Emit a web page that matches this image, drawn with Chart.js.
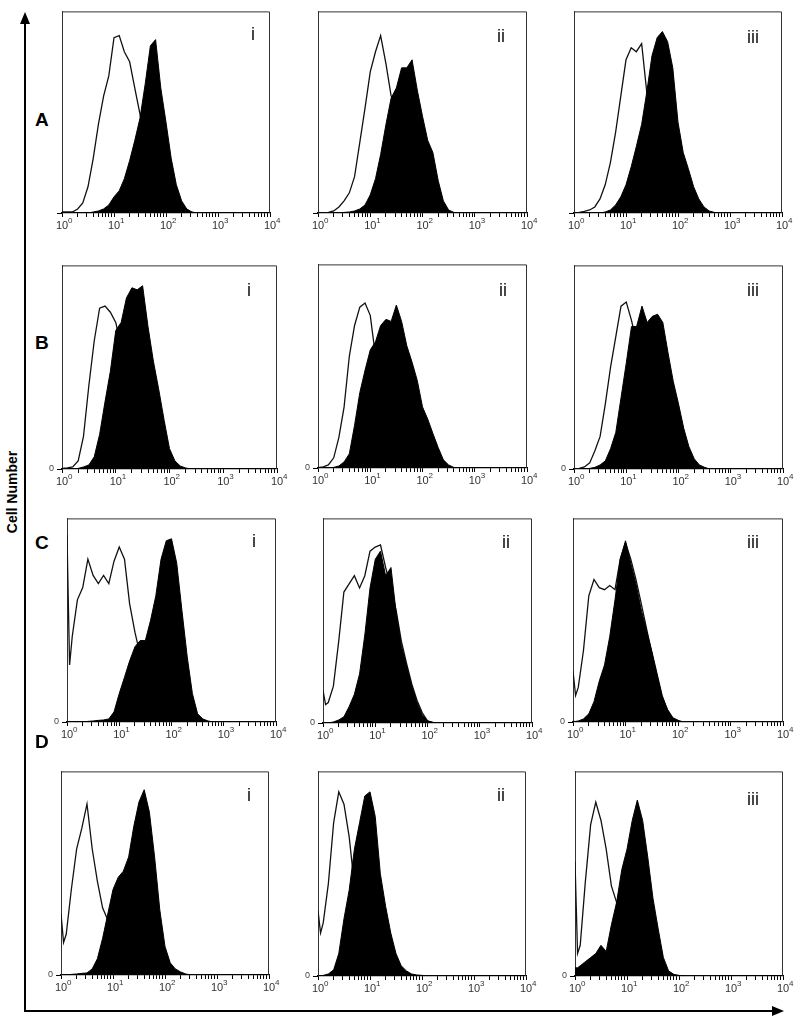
<!DOCTYPE html>
<html>
<head>
<meta charset="utf-8">
<script src="https://cdn.jsdelivr.net/npm/chart.js@4.4.1/dist/chart.umd.min.js"></script>
<style>
  body { margin: 0; width: 800px; height: 1021px; background: #fff; position: relative; overflow: hidden;
         font-family: "Liberation Sans", Arial, sans-serif; }
  canvas { position: absolute; }
  .row { position: absolute; font-weight: bold; font-size: 19px; line-height: 19px; color: #000; }
  .pl { position: absolute; font-size: 18px; line-height: 18px; color: #111; }
  #ylab { position: absolute; left: -31px; top: 484px; width: 86px; height: 16px; line-height: 16px;
          text-align: center; font-weight: bold; font-size: 14px; white-space: nowrap; transform: rotate(-90deg); }
  .ln { position: absolute; background: #000; }
  .tri-up { position: absolute; width: 0; height: 0; border-left: 5px solid transparent; border-right: 5px solid transparent; border-bottom: 12px solid #000; }
  .tri-right { position: absolute; width: 0; height: 0; border-top: 5px solid transparent; border-bottom: 5px solid transparent; border-left: 12px solid #000; }
</style>
</head>
<body>
<div id="ylab">Cell Number</div>
<div class="ln" style="left:24px;top:22px;width:2px;height:990px"></div>
<div class="tri-up" style="left:20px;top:12px"></div>
<div class="ln" style="left:24px;top:1010px;width:752px;height:2px"></div>
<div class="tri-right" style="left:772px;top:1006px"></div>

<script>
// fluorescence channel (log grid) shared by every histogram
const fluor = [1, 1.12, 1.26, 1.58, 2.0, 2.51, 3.16, 3.98, 5.01, 6.31, 7.94, 10, 12.6, 15.8, 20.0, 25.1,
               31.6, 39.8, 50.1, 63.1, 79.4, 100, 126, 158, 200, 251, 316, 398, 501, 631];
const decadeBase = '10';
const decadeExp = ['0', '1', '2', '3', '4'];
const rowNames = ['A', 'B', 'C', 'D'];
const colNames = ['i', 'ii', 'iii'];

// control (open outline) and stained (filled) cell counts, % of panel height
const ctrlA1 = [0.5,0.5,0.5,0.5,2,5,13,27,44,58,68,87,88,80,75,62,49,35,22,12,6,3,1,0.5,0,0,0,0,0,0];
const stainA1 = [0,0,0,0,0,0,0,0.5,1,2,4,8,11,17,26,36,47,64,83,86,62,45,27,14,6,2,0.5,0,0,0];
const ctrlA2 = [0,0,0,0.3,1,3,6,10,18,35,52,70,80,88,74,58,55,45,35,25,15,8,4,2,0.5,0,0,0,0,0];
const stainA2 = [0,0,0,0,0,0,0.3,0.5,1,2,4,9,17,29,44,57,62,72,72,76,61,48,36,30,16,6,1.5,0.3,0,0];
const ctrlA3 = [0,0.1,0.3,0.8,1.5,3,7,14,25,40,58,76,82,80,84,60,45,30,18,10,5,2,1,0,0,0,0,0,0,0];
const stainA3 = [0,0,0,0,0,0,0,0.5,1.5,4,8,14,23,33,44,60,78,87,90,85,72,45,30,22,13,7,3,1,0.3,0];

const ctrlB1 = [0.3,0.4,0.5,1,4,16,41,63,79,80,77,72,60,45,32,20,12,6,3,1,0.3,0,0,0,0,0,0,0,0,0];
const stainB1 = [0,0,0,0,0.3,1,2,6,17,33,48,68,72,84,89,88,90,70,53,39,24,10,4,1.5,0.5,0,0,0,0,0];
const ctrlB2 = [0.3,0.4,0.6,1.5,5,15,30,55,70,79,81,75,55,40,28,17,10,5,2,1,0.3,0,0,0,0,0,0,0,0,0];
const stainB2 = [0,0,0,0,0.3,1,3,7,21,37,48,58,62,70,73,72,80,72,60,52,43,30,24,17,10,4,1.5,0.3,0,0];
const ctrlB3 = [0,0.1,0.3,1,3,9,16,32,50,65,80,82,73,62,45,32,20,12,6,3,1,0.3,0,0,0,0,0,0,0,0];
const stainB3 = [0,0,0,0,0.3,0.8,2,4,10,18,35,52,70,70,80,72,75,76,72,57,43,32,20,11,5,2,0.8,0,0,0];

const ctrlC1 = [92,28,42,60,66,80,72,68,72,68,79,86,80,58,44,33,22,14,8,4,2,1,0.3,0,0,0,0,0,0,0];
const stainC1 = [0,0,0,0,0,0.3,0.5,0.8,1,1.5,5,14,22,30,37,40,40,50,62,80,89,90,78,55,32,14,4,1.5,0.5,0];
const ctrlC2 = [16,9,10,18,40,64,68,72,66,72,84,86,87,76,66,55,40,29,19,11,5,1,0.3,0,0,0,0,0,0,0];
const stainC2 = [0,0,0,0.5,1.5,3,8,14,24,43,66,80,84,72,76,54,38,28,18,10,4,1,0.3,0,0,0,0,0,0,0];
const ctrlC3 = [25,13,17,35,62,70,66,65,67,65,80,88,80,70,58,46,34,22,12,6,2,0.8,0,0,0,0,0,0,0,0];
const stainC3 = [0.3,0.3,0.5,1.5,4,10,20,28,42,60,80,89,78,68,55,45,35,24,13,6,2,0.5,0,0,0,0,0,0,0,0];

const ctrlD1 = [30,16,20,42,62,72,84,62,46,33,27,20,12,7,4,2,1,0.3,0,0,0,0,0,0,0,0,0,0,0,0];
const stainD1 = [0,0,0,0.3,0.5,0.8,1,3,8,18,30,42,48,51,58,73,85,91,80,58,32,14,6,3,1.5,0.5,0,0,0,0];
const ctrlD2 = [32,21,26,45,75,90,84,68,44,28,18,10,5,2.5,1,0.3,0,0,0,0,0,0,0,0,0,0,0,0,0,0];
const stainD2 = [0,0,0.3,1,3,11,28,42,62,75,88,90,78,50,34,21,11,5,2.5,1,0.5,0.3,0,0,0,0,0,0,0,0];
const ctrlD3 = [56,11,15,46,74,85,76,62,44,36,28,18,10,5,2,1,0.3,0,0,0,0,0,0,0,0,0,0,0,0,0];
const stainD3 = [4,4,5,7,9,11,15,12,25,36,52,62,76,86,76,58,38,23,9,2.5,0.8,0.3,0,0,0,0,0,0,0,0];

const ctrl = [[ctrlA1, ctrlA2, ctrlA3], [ctrlB1, ctrlB2, ctrlB3], [ctrlC1, ctrlC2, ctrlC3], [ctrlD1, ctrlD2, ctrlD3]];
const stain = [[stainA1, stainA2, stainA3], [stainB1, stainB2, stainB3], [stainC1, stainC2, stainC3], [stainD1, stainD2, stainD3]];

// plot boxes on the page: left, top, width, height
const boxes = [
  [[62, 7, 208, 206], [318, 7, 209, 206], [574, 7, 208, 206]],
  [[62, 261, 215, 208], [318, 260, 209, 208], [574, 261, 209, 208]],
  [[67, 514, 209, 208], [323, 514, 209, 209], [573, 514, 210, 208]],
  [[61, 767, 208, 208], [318, 767, 208, 209], [575, 767, 208, 209]]
];
const rowLabelPos = [[35, 110], [35, 333], [35, 533], [35, 732]];
const panelLabelPos = [
  [[251, 25], [497, 27], [747, 28]],
  [[247, 281], [499, 281], [747, 281]],
  [[252, 532], [502, 533], [747, 533]],
  [[247, 786], [497, 786], [747, 790]]
];

const YW = 24, PT = 4, PR = 14, XH = 28;

const frame = {
  id: 'frame',
  afterDraw(chart) {
    const a = chart.chartArea, ctx = chart.ctx;
    ctx.save();
    ctx.strokeStyle = '#333';
    ctx.lineWidth = 1;
    ctx.beginPath();
    ctx.moveTo(a.left, a.top + 0.5);
    ctx.lineTo(a.right - 0.5, a.top + 0.5);
    ctx.lineTo(a.right - 0.5, a.bottom);
    ctx.stroke();
    ctx.restore();
  }
};

// superscript exponents next to the "10" decade labels
const exponents = {
  id: 'exponents',
  afterDraw(chart) {
    const xs = chart.scales.x, ctx = chart.ctx;
    ctx.save();
    ctx.font = '8px "Liberation Sans"';
    ctx.fillStyle = '#333';
    ctx.textAlign = 'left';
    ctx.textBaseline = 'alphabetic';
    decadeExp.forEach((e, i) => {
      const px = xs.getPixelForValue(Math.pow(10, i));
      ctx.fillText(e, px + 6, xs.top + 10);
    });
    ctx.restore();
  }
};

function addText(cls, txt, x, y) {
  const d = document.createElement('div');
  d.className = cls;
  d.textContent = txt;
  d.style.left = x + 'px';
  d.style.top = y + 'px';
  document.body.appendChild(d);
}

function makePanel(r, c) {
  const [L, T, W, H] = boxes[r][c];
  const cv = document.createElement('canvas');
  cv.width = YW + W + PR;
  cv.height = PT + H + XH;
  cv.style.left = (L - YW) + 'px';
  cv.style.top = (T - PT) + 'px';
  document.body.appendChild(cv);

  new Chart(cv, {
    type: 'line',
    data: {
      labels: fluor,
      datasets: [
        {
          data: stain[r][c],
          borderColor: '#000',
          backgroundColor: '#000',
          borderWidth: 1,
          fill: 'origin',
          pointRadius: 0,
          tension: 0
        },
        {
          data: ctrl[r][c],
          borderColor: '#111',
          borderWidth: 1.3,
          fill: false,
          pointRadius: 0,
          tension: 0
        }
      ]
    },
    options: {
      responsive: false,
      animation: false,
      events: [],
      layout: { padding: { left: 0, top: PT, right: PR, bottom: 0 } },
      plugins: { legend: { display: false }, tooltip: { enabled: false } },
      scales: {
        x: {
          type: 'logarithmic',
          min: 1,
          max: 10000,
          afterFit: s => { s.height = XH; },
          afterBuildTicks: s => {
            const t = [];
            for (let e = 0; e < 4; e++) {
              for (let m = 1; m < 10; m++) t.push({ value: m * Math.pow(10, e) });
            }
            t.push({ value: 10000 });
            s.ticks = t;
          },
          grid: { drawOnChartArea: false, drawTicks: true, tickLength: 4, color: '#000' },
          border: { display: true, color: '#000', width: 1.2 },
          ticks: {
            autoSkip: false,
            maxRotation: 0,
            minRotation: 0,
            padding: 2,
            color: '#333',
            font: { family: 'Liberation Sans', size: 11 },
            callback: v => {
              const e = Math.log10(v);
              return Math.abs(e - Math.round(e)) < 1e-9 ? decadeBase : '';
            }
          }
        },
        y: {
          min: 0,
          max: 100,
          afterFit: s => { s.width = YW; },
          afterBuildTicks: s => { s.ticks = [{ value: 0 }]; },
          grid: { drawOnChartArea: false, drawTicks: true, tickLength: 5, color: '#000' },
          border: { display: true, color: '#333', width: 1 },
          ticks: {
            padding: 3,
            color: '#444',
            font: { family: 'Liberation Sans', size: 9 },
            callback: () => (r === 0 ? '' : '0')
          }
        }
      }
    },
    plugins: [frame, exponents]
  });

  addText('pl', colNames[c], panelLabelPos[r][c][0], panelLabelPos[r][c][1]);
}

for (let r = 0; r < 4; r++) {
  addText('row', rowNames[r], rowLabelPos[r][0], rowLabelPos[r][1]);
  for (let c = 0; c < 3; c++) makePanel(r, c);
}
</script>
</body>
</html>
